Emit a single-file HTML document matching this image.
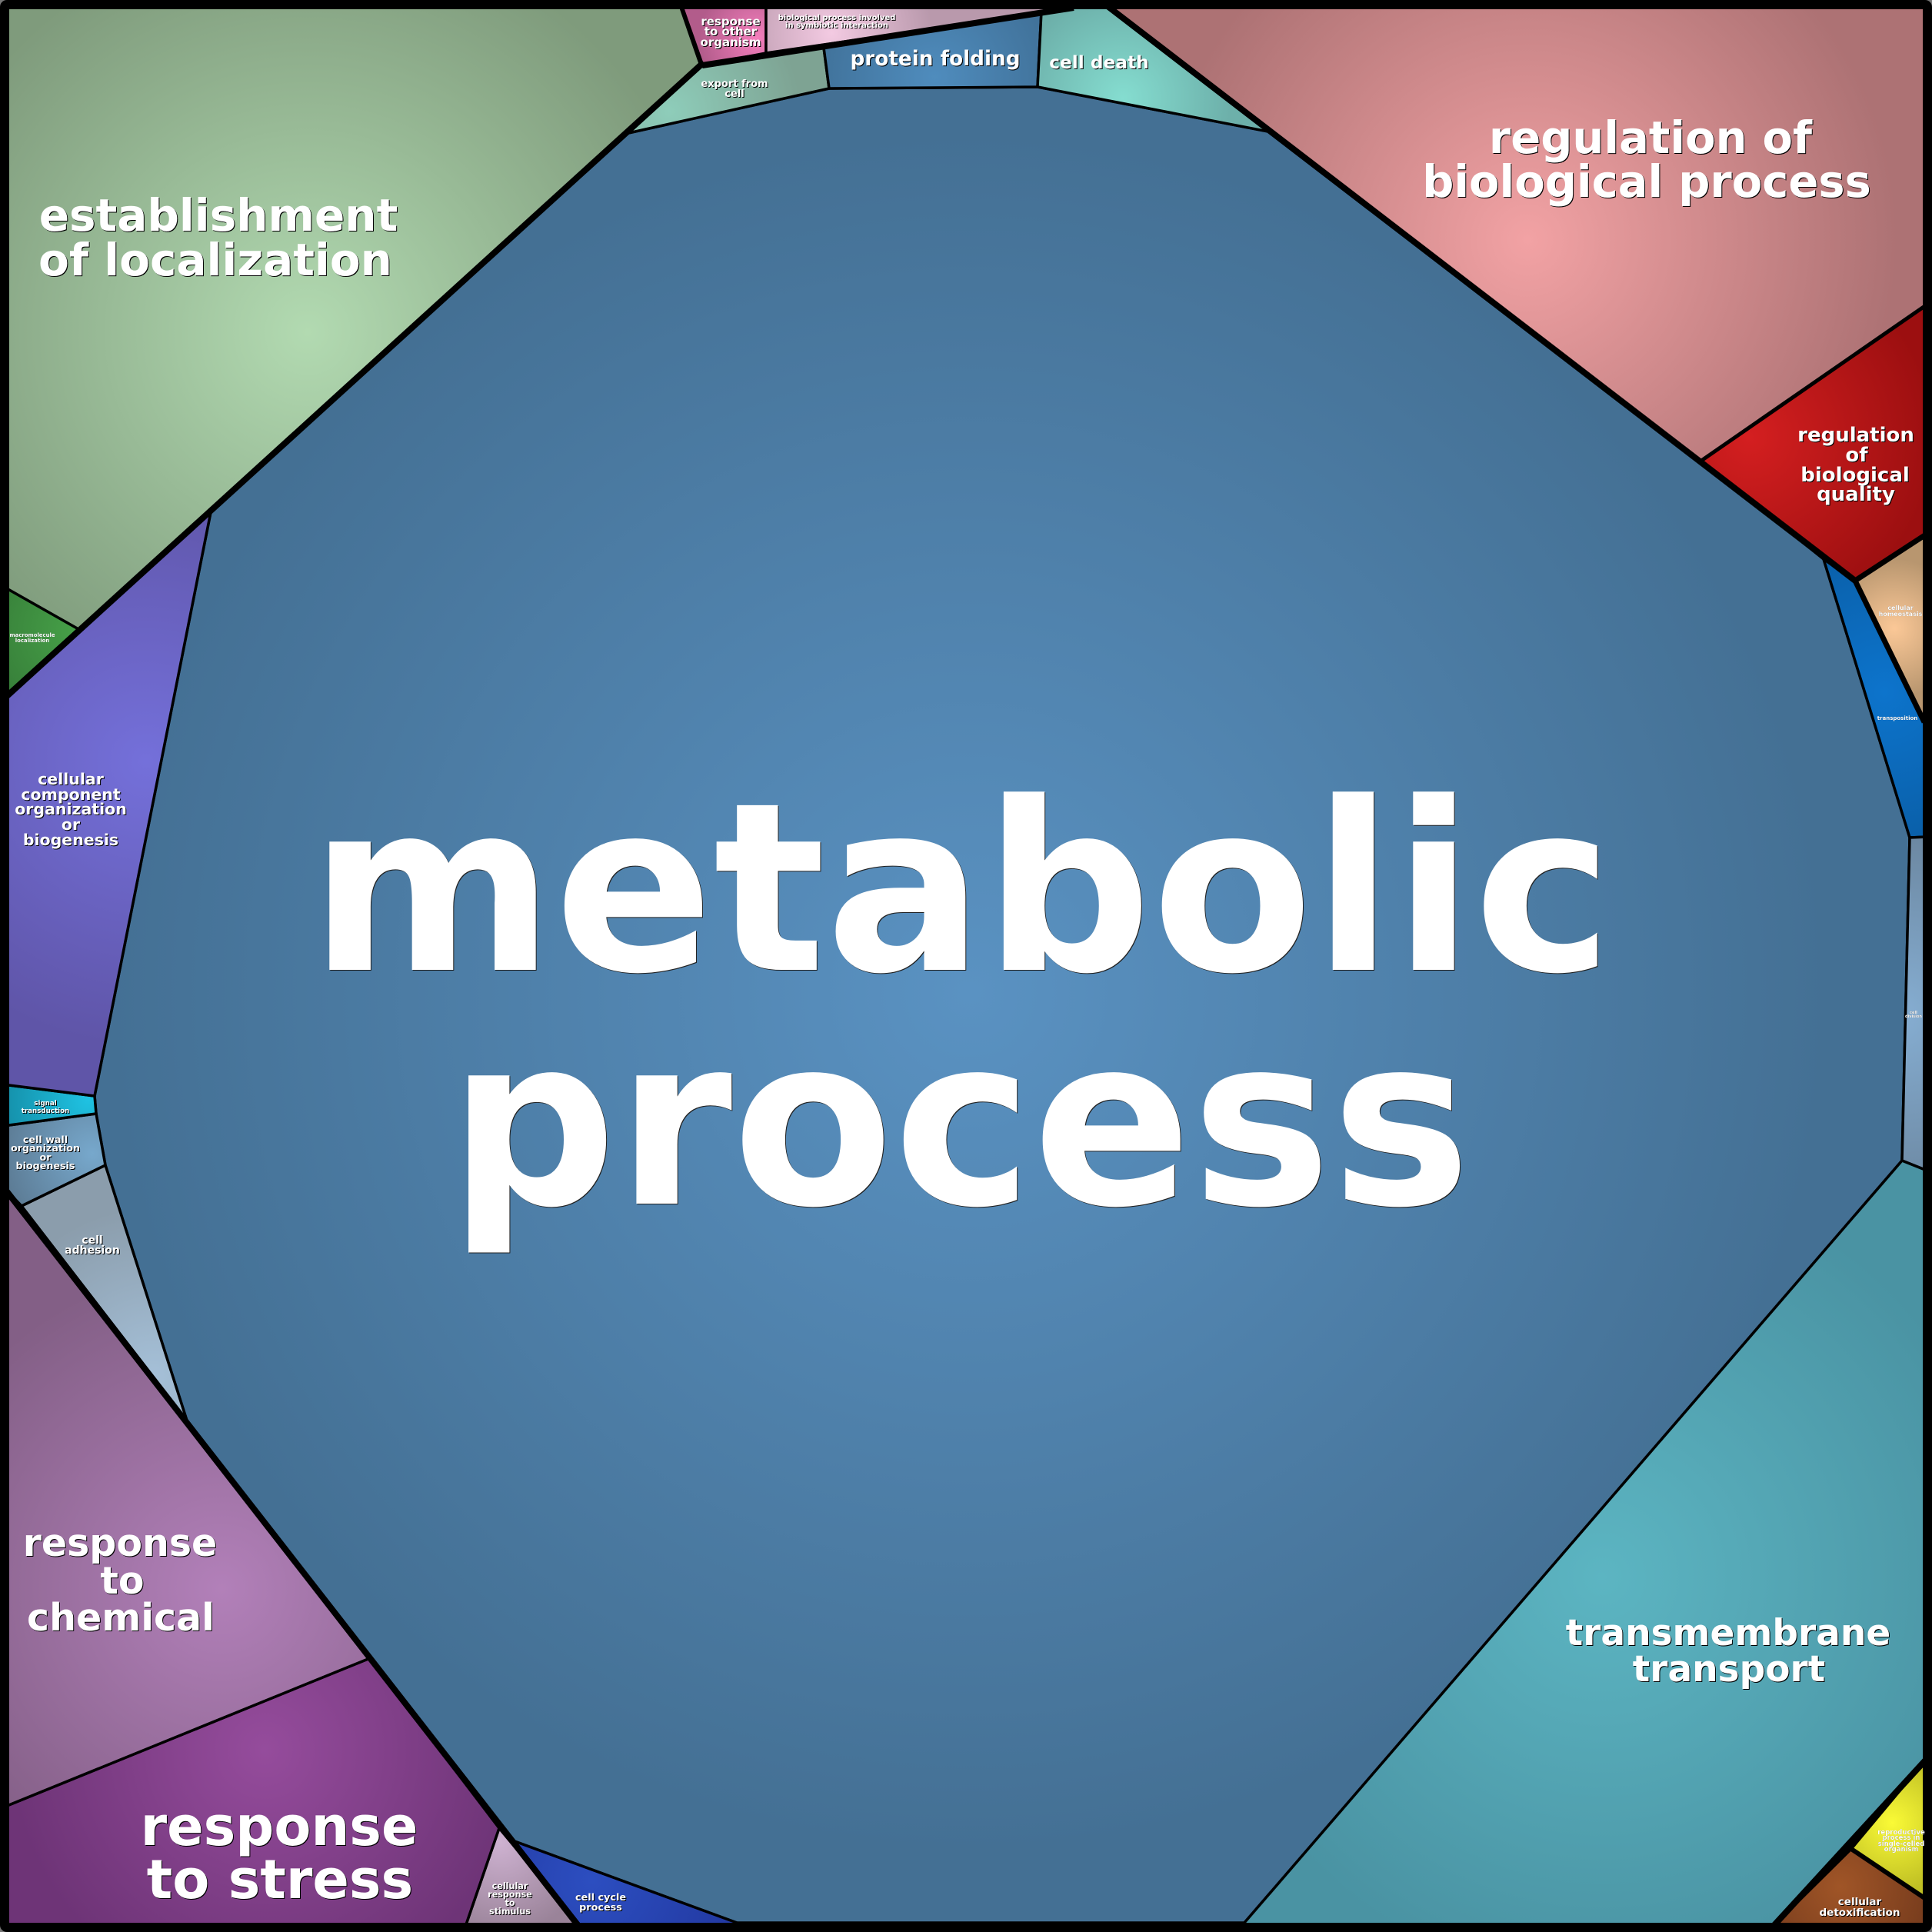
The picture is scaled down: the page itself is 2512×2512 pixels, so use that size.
<!DOCTYPE html>
<html><head><meta charset="utf-8"><style>
html,body{margin:0;padding:0;background:#777}
svg{display:block}
text{font-family:"DejaVu Sans","Liberation Sans",sans-serif;font-weight:bold;fill:#fff;text-anchor:middle}
.c polygon{stroke:#000;stroke-width:3.5;stroke-linejoin:round}
.t{stroke:#000;stroke-linecap:butt;fill:none}
.s0{filter:drop-shadow(.8px .8px 0 #000)}
.s1{filter:drop-shadow(1px 1px 0 #000)}
.s2{filter:drop-shadow(1.5px 1.5px 0 #000)}
.sm{filter:drop-shadow(1.5px 1.5px 0 #222)}
</style></head><body>
<svg xmlns="http://www.w3.org/2000/svg" width="2512" height="2512" viewBox="0 0 2512 2512">
<defs>
<radialGradient id="g1" gradientUnits="userSpaceOnUse" cx="400" cy="432" r="530"><stop offset="0" stop-color="#b2dab1"/><stop offset="1" stop-color="#7f9b7c"/></radialGradient>
<radialGradient id="g2" gradientUnits="userSpaceOnUse" cx="984" cy="50" r="75"><stop offset="0" stop-color="#f47ebc"/><stop offset="1" stop-color="#b25c8b"/></radialGradient>
<radialGradient id="g3" gradientUnits="userSpaceOnUse" cx="1081" cy="43" r="130"><stop offset="0" stop-color="#f3cae2"/><stop offset="1" stop-color="#b999ac"/></radialGradient>
<radialGradient id="g4" gradientUnits="userSpaceOnUse" cx="870" cy="145" r="170"><stop offset="0" stop-color="#8ecdba"/><stop offset="1" stop-color="#7ea393"/></radialGradient>
<radialGradient id="g5" gradientUnits="userSpaceOnUse" cx="1215" cy="100" r="170"><stop offset="0" stop-color="#4f8cbd"/><stop offset="1" stop-color="#3f6f96"/></radialGradient>
<radialGradient id="g6" gradientUnits="userSpaceOnUse" cx="1460" cy="128" r="140"><stop offset="0" stop-color="#85ddd0"/><stop offset="1" stop-color="#6db0aa"/></radialGradient>
<radialGradient id="g7" gradientUnits="userSpaceOnUse" cx="1986" cy="312" r="480"><stop offset="0" stop-color="#f2a2a4"/><stop offset="1" stop-color="#ad7274"/></radialGradient>
<radialGradient id="g8" gradientUnits="userSpaceOnUse" cx="2275" cy="568" r="240"><stop offset="0" stop-color="#d41f20"/><stop offset="1" stop-color="#9c0f10"/></radialGradient>
<radialGradient id="g9" gradientUnits="userSpaceOnUse" cx="2463" cy="817" r="90"><stop offset="0" stop-color="#fbc897"/><stop offset="1" stop-color="#b8966f"/></radialGradient>
<radialGradient id="g10" gradientUnits="userSpaceOnUse" cx="2450" cy="900" r="200"><stop offset="0" stop-color="#0d74cc"/><stop offset="1" stop-color="#0a5fa8"/></radialGradient>
<radialGradient id="g11" gradientUnits="userSpaceOnUse" cx="2470" cy="1320" r="230"><stop offset="0" stop-color="#86aed2"/><stop offset="1" stop-color="#6c88a2"/></radialGradient>
<radialGradient id="g12" gradientUnits="userSpaceOnUse" cx="2083" cy="2050" r="530"><stop offset="0" stop-color="#5cb5c2"/><stop offset="1" stop-color="#4a93a3"/></radialGradient>
<radialGradient id="g13" gradientUnits="userSpaceOnUse" cx="2460" cy="2370" r="90"><stop offset="0" stop-color="#fafa36"/><stop offset="1" stop-color="#bfbf24"/></radialGradient>
<radialGradient id="g14" gradientUnits="userSpaceOnUse" cx="2393" cy="2453" r="120"><stop offset="0" stop-color="#a05527"/><stop offset="1" stop-color="#773c1d"/></radialGradient>
<radialGradient id="g15" gradientUnits="userSpaceOnUse" cx="770" cy="2445" r="200"><stop offset="0" stop-color="#2c4ec0"/><stop offset="1" stop-color="#2238a0"/></radialGradient>
<radialGradient id="g16" gradientUnits="userSpaceOnUse" cx="650" cy="2395" r="120"><stop offset="0" stop-color="#ceb2d1"/><stop offset="1" stop-color="#9a8399"/></radialGradient>
<radialGradient id="g17" gradientUnits="userSpaceOnUse" cx="344" cy="2275" r="330"><stop offset="0" stop-color="#954c9c"/><stop offset="1" stop-color="#6e3477"/></radialGradient>
<radialGradient id="g18" gradientUnits="userSpaceOnUse" cx="288" cy="2066" r="420"><stop offset="0" stop-color="#b280b9"/><stop offset="1" stop-color="#835f86"/></radialGradient>
<radialGradient id="g19" gradientUnits="userSpaceOnUse" cx="200" cy="1790" r="220"><stop offset="0" stop-color="#a5c0d8"/><stop offset="1" stop-color="#8b9dac"/></radialGradient>
<radialGradient id="g20" gradientUnits="userSpaceOnUse" cx="120" cy="1500" r="120"><stop offset="0" stop-color="#77a8cc"/><stop offset="1" stop-color="#5c7b94"/></radialGradient>
<radialGradient id="g21" gradientUnits="userSpaceOnUse" cx="115" cy="1430" r="110"><stop offset="0" stop-color="#1fc2e2"/><stop offset="1" stop-color="#1590aa"/></radialGradient>
<radialGradient id="g22" gradientUnits="userSpaceOnUse" cx="190" cy="990" r="370"><stop offset="0" stop-color="#7470da"/><stop offset="1" stop-color="#5f55a8"/></radialGradient>
<radialGradient id="g23" gradientUnits="userSpaceOnUse" cx="100" cy="820" r="130"><stop offset="0" stop-color="#46a048"/><stop offset="1" stop-color="#367c38"/></radialGradient>
<radialGradient id="g0" gradientUnits="userSpaceOnUse" cx="1260" cy="1290" r="1120"><stop offset="0" stop-color="#5a92c2"/><stop offset="1" stop-color="#447094"/></radialGradient>
</defs>
<rect width="2512" height="2512" fill="#777"/>
<rect x="0" y="0" width="2512" height="2512" rx="9" fill="#000"/>
<g class="c">
<polygon fill="url(#g0)" points="817,173 1078,115 1349,113 1654,172 2212,599 2371,727 2483,1089 2473,1509 1618,2500 958,2500 669,2394 243,1847 137,1515 125,1448 123,1425 274,666"/>
<polygon fill="url(#g1)" points="4,4 883,4 911,85 817,173 274,666 102,818 4,762.5"/>
<polygon fill="url(#g23)" points="4,762.5 102,818 4,909"/>
<polygon fill="url(#g2)" points="883,4 996,4 996,69 913,85"/>
<polygon fill="url(#g3)" points="996,4 1440,4 996,69"/>
<polygon fill="url(#g4)" points="817,173 913,85 1071,62 1078,115"/>
<polygon fill="url(#g5)" points="1071,62 1354,15 1349,113 1078,115"/>
<polygon fill="url(#g6)" points="1354,15 1388,4 1434,4 1654,172 1349,113"/>
<polygon fill="url(#g7)" points="1434,4 2508,4 2508,394.5 2212,599 1654,172"/>
<polygon fill="url(#g8)" points="2212,599 2508,394.5 2508,692 2412,755"/>
<polygon fill="url(#g9)" points="2412,755 2508,692 2508,951"/>
<polygon fill="url(#g10)" points="2371,727 2412,755 2504,943 2508,1088 2483,1089"/>
<polygon fill="url(#g11)" points="2483,1089 2508,1088 2508,1523 2473,1509"/>
<polygon fill="url(#g12)" points="2473,1509 2508,1523 2508,2283 2407,2400 2302,2508 1611,2508"/>
<polygon fill="url(#g13)" points="2508,2283 2508,2471 2407,2404"/>
<polygon fill="url(#g14)" points="2407,2404 2508,2471 2508,2508 2302,2508"/>
<polygon fill="url(#g15)" points="669,2394 980,2508 758,2508"/>
<polygon fill="url(#g16)" points="649,2377 758,2508 604,2508"/>
<polygon fill="url(#g17)" points="4,2350 481,2156 649,2377 604,2508 4,2508"/>
<polygon fill="url(#g18)" points="4,1543 243,1847 481,2156 4,2350"/>
<polygon fill="url(#g19)" points="137,1515 243,1847 28,1568"/>
<polygon fill="url(#g20)" points="125,1448 137,1515 28,1568 4,1543 4,1464"/>
<polygon fill="url(#g21)" points="123,1425 125,1448 4,1464 4,1410"/>
<polygon fill="url(#g22)" points="274,666 123,1425 4,1410 4,909"/>
</g>
<g class="t">
<path stroke-width="8" d="M8,906 L915,81"/>
<path stroke-width="8" d="M913,85 L1396,10"/>
<path stroke-width="8" d="M1440,8 L2412,755"/>
<path stroke-width="7" d="M2412,755 L2502,939"/>
<path stroke-width="7" d="M2412,755 L2504,695"/>
<path stroke-width="5" d="M2212,599 L2504,397"/>
<path stroke-width="8" d="M8,1548 L752,2504"/>
<path stroke-width="8" d="M2504,2288 L2306,2504"/>
<path stroke-width="6" d="M2407,2404 L2504,2469"/>
<path stroke-width="5" d="M886,8 L913,85"/>
</g>
<!-- frame -->
<path d="M0,0H2512V2512H0Z M12,12V2500H2500V12Z" fill-rule="evenodd" fill="#000"/>
<path d="M0,9A9,9 0 0 1 9,0H0Z M2503,0A9,9 0 0 1 2512,9V0Z M2512,2503A9,9 0 0 1 2503,2512H2512Z M9,2512A9,9 0 0 1 0,2503V2512Z" fill="#777"/>

<g class="sm">
<text x="1250" y="1261" font-size="305">metabolic</text>
<text x="1248" y="1565" font-size="305">process</text>
</g>
<g class="s2">
<text x="284" y="300" font-size="58">establishment</text>
<text x="280" y="358" font-size="58">of localization</text>
<text x="2146" y="199" font-size="57.5">regulation of</text>
<text x="2141" y="256" font-size="57.5">biological process</text>
<text x="156" y="2023" font-size="49">response</text>
<text x="159" y="2072" font-size="49">to</text>
<text x="157" y="2120" font-size="49">chemical</text>
<text x="363" y="2399" font-size="70">response</text>
<text x="364" y="2468" font-size="70">to stress</text>
<text x="2247" y="2139" font-size="47">transmembrane</text>
<text x="2248" y="2186" font-size="47">transport</text>
<text x="2413" y="574" font-size="26">regulation</text>
<text x="2414" y="600" font-size="26">of</text>
<text x="2412" y="626" font-size="26">biological</text>
<text x="2413" y="651" font-size="26">quality</text>
<text x="1216" y="85" font-size="26.3">protein folding</text>
<text x="1429" y="89" font-size="23.3">cell death</text>
<text x="92" y="1020" font-size="20.5">cellular</text>
<text x="92" y="1040" font-size="20.5">component</text>
<text x="92" y="1059" font-size="20.5">organization</text>
<text x="92" y="1079" font-size="20.5">or</text>
<text x="92" y="1099" font-size="20.5">biogenesis</text>
</g>
<g class="s1">
<text x="950" y="33" font-size="15">response</text>
<text x="950" y="46" font-size="15">to other</text>
<text x="950" y="60" font-size="15">organism</text>
<text x="955" y="113" font-size="13">export from</text>
<text x="955" y="126" font-size="13">cell</text>
<text x="2418" y="2477" font-size="13.5">cellular</text>
<text x="2418" y="2491" font-size="13.5">detoxification</text>
<text x="781" y="2471" font-size="12.8">cell cycle</text>
<text x="781" y="2484" font-size="12.8">process</text>
<text x="663" y="2456" font-size="11.2">cellular</text>
<text x="663" y="2467" font-size="11.2">response</text>
<text x="663" y="2478" font-size="11.2">to</text>
<text x="663" y="2489" font-size="11.2">stimulus</text>
<text x="59" y="1486" font-size="12.7">cell wall</text>
<text x="59" y="1497" font-size="12.7">organization</text>
<text x="59" y="1509" font-size="12.7">or</text>
<text x="59" y="1520" font-size="12.7">biogenesis</text>
<text x="120" y="1617" font-size="14">cell</text>
<text x="120" y="1630" font-size="14">adhesion</text>
<text x="1088" y="26" font-size="10">biological process involved</text>
<text x="1088" y="36" font-size="10">in symbiotic interaction</text>
<text x="59" y="1437" font-size="8.7">signal</text>
<text x="59" y="1447" font-size="8.7">transduction</text>
</g>
<g class="s0">
<text x="2471" y="793" font-size="8">cellular</text>
<text x="2471" y="801" font-size="8">homeostasis</text>
<text x="2467" y="936" font-size="7">transposition</text>
<text x="2488" y="1318" font-size="5">cell</text>
<text x="2488" y="1323" font-size="5">division</text>
<text x="2472" y="2385" font-size="8.5">reproductive</text>
<text x="2472" y="2392" font-size="8.5">process in</text>
<text x="2472" y="2400" font-size="8.5">single-celled</text>
<text x="2472" y="2407" font-size="8.5">organism</text>
<text x="42" y="828" font-size="6.9">macromolecule</text>
<text x="42" y="835" font-size="6.9">localization</text>
</g>
</svg>
</body></html>
